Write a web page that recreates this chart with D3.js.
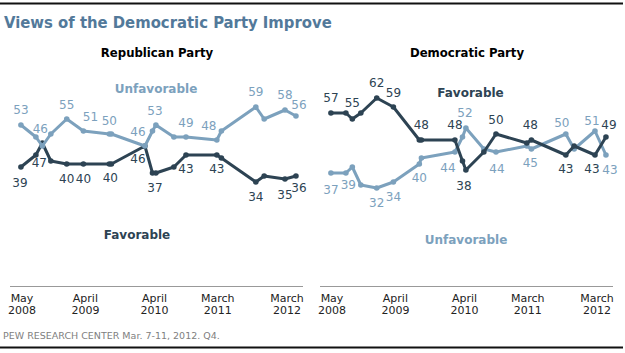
<!DOCTYPE html>
<html lang="en">
<head>
<meta charset="UTF-8">
<title>Views of the Democratic Party Improve</title>
<script src="https://cdn.jsdelivr.net/npm/d3@7"></script>
<style>
  body { margin: 0; background: #fff; }
  text { font-family: Tahoma, "DejaVu Sans", sans-serif; }
</style>
</head>
<body>
<div id="app"></div>
<script>
    // survey dates (shared by all four series)
    var surveyDates = ["2008-04-28", "2008-07-16", "2008-08-19", "2008-10-03", "2008-12-26",
        "2009-03-24", "2009-08-08", "2009-08-19", "2010-02-12", "2010-03-24", "2010-04-11",
        "2010-07-15", "2010-09-17", "2011-02-27", "2011-03-23", "2011-09-21", "2011-11-04",
        "2012-02-22", "2012-04-20"];

    var repUnfav = [53, 49, 46, 50, 55, 51, 50, 50, 46, 51, 53, 49, 49, 48, 51, 59, 55, 58, 56];
    var repFav   = [39, 43, 47, 41, 40, 40, 40, 40, 46, 37, 37, 39, 43, 43, 42, 34, 36, 35, 36];
    var demFav   = [57, 57, 55, 57, 62, 59, 48, 48, 48, 41, 38, 44, 50, 47, 48, 43, 46, 43, 49];
    var demUnfav = [37, 37, 39, 33, 32, 34, 40, 42, 44, 49, 52, 45, 44, 46, 45, 50, 45, 51, 43];

    var tickDates  = ["2008-05-01", "2009-04-01", "2010-04-01", "2011-03-01", "2012-03-01"];
    var tickMonths = ["May", "April", "April", "March", "March"];
    var tickYears  = ["2008", "2009", "2010", "2011", "2012"];

    // which points get a number, and where it sits (index, dx, dy)
    var repUnfavLabels = [[0,0,-15],[2,-2,-17],[4,0,-14],[5,7,-14],[6,0,-13],[8,-7,-14],[10,-1,-14],
        [12,0,-14],[13,-8,-14],[15,0,-15],[17,0,-15],[18,3,-11]];
    var repFavLabels = [[0,-1,16],[2,-3,20],[4,0,15],[5,0,15],[6,1,14],[8,-7,13],[10,-1,15],
        [12,0,14],[13,0,14],[15,0,15],[17,0,16],[18,3,12]];
    var demFavLabels = [[0,0,-15],[2,0,-16],[4,0,-15],[5,0,-14],[6,2,-15],[8,0,-15],[10,-2,16],
        [12,0,-14],[14,-1,-15],[15,0,14],[17,-3,14],[18,3,-12]];
    var demUnfavLabels = [[0,0,17],[2,-4,18],[4,0,15],[5,0,15],[6,0,14],[8,-7,16],[10,-1,-15],
        [12,1,17],[14,-1,14],[15,-4,-11],[17,-3,-10],[18,4,15]];

    var darkColor = "#2d4353";
    var lightColor = "#7ca1bd";

    var width = 625, height = 353;
    var parse = d3.timeParse("%Y-%m-%d");
    var dates = surveyDates.map(parse);

    var svg = d3.select("#app").append("svg")
        .attr("width", width)
        .attr("height", height);

    // top and bottom rules
    svg.append("line").attr("x1", 0).attr("x2", 623).attr("y1", 3.5).attr("y2", 3.5)
        .attr("stroke", "#111").attr("stroke-width", 2);
    svg.append("line").attr("x1", 0).attr("x2", 623).attr("y1", 347.5).attr("y2", 347.5)
        .attr("stroke", "#111").attr("stroke-width", 2);

    svg.append("text")
        .attr("x", 4).attr("y", 28)
        .attr("fill", "#52799a")
        .style("font-size", "16.5px").style("font-weight", "bold")
        .style("font-family", "'DejaVu Sans Condensed', Tahoma, 'DejaVu Sans', sans-serif")
        .text("Views of the Democratic Party Improve");

    svg.append("text")
        .attr("x", 3).attr("y", 338.5)
        .attr("fill", "#808080")
        .style("font-size", "9.5px")
        .text("PEW RESEARCH CENTER Mar. 7-11, 2012. Q4.");

    var x = d3.scaleTime()
        .domain([parse("2008-05-01"), parse("2012-03-01")])
        .range([21.5, 286.5]);
    var y = d3.scaleLinear()
        .domain([0, 60])
        .range([284, 104]);

    var line = d3.line()
        .x(function (d) { return x(d.date); })
        .y(function (d) { return y(d.value); });

    function drawPanel(offset, title, series) {
        var g = svg.append("g").attr("transform", "translate(" + offset + ",0)");

        g.append("text")
            .attr("x", 157).attr("y", 57)
            .attr("text-anchor", "middle")
            .attr("fill", "#000")
            .style("font-size", "13px").style("font-weight", "bold")
            .style("font-family", "'DejaVu Sans Condensed', Tahoma, 'DejaVu Sans', sans-serif")
            .text(title);

        // baseline + tick labels
        g.append("line")
            .attr("x1", 10).attr("x2", 303).attr("y1", 286.5).attr("y2", 286.5)
            .attr("stroke", "#999").attr("stroke-width", 1);

        var axis = g.append("g")
            .attr("transform", "translate(0,286)")
            .call(d3.axisBottom(x).tickValues(tickDates.map(parse)).tickSize(0).tickFormat(""));
        axis.select(".domain").remove();
        axis.selectAll(".tick").each(function (d, i) {
            var t = d3.select(this).append("text")
                .attr("text-anchor", "middle")
                .attr("fill", "#222")
                .style("font-size", "11px");
            t.append("tspan").attr("x", 0).attr("y", 16).text(tickMonths[i]);
            t.append("tspan").attr("x", 0).attr("y", 28).text(tickYears[i]);
        });

        series.forEach(function (s) {
            var pts = dates.map(function (d, i) { return { date: d, value: s.values[i] }; })
                .filter(function (p) { return p.value != null; });

            g.append("path")
                .datum(pts)
                .attr("d", line)
                .attr("fill", "none")
                .attr("stroke", s.color)
                .attr("stroke-width", 3)
                .attr("stroke-linejoin", "round");

            g.selectAll(null)
                .data(pts)
                .enter().append("circle")
                .attr("cx", function (d) { return x(d.date); })
                .attr("cy", function (d) { return y(d.value); })
                .attr("r", 2.8)
                .attr("fill", s.color);

            g.selectAll(null)
                .data(s.labels)
                .enter().append("text")
                .attr("x", function (l) { return x(dates[l[0]]) + l[1]; })
                .attr("y", function (l) { return y(s.values[l[0]]) + l[2]; })
                .attr("dy", "0.36em")
                .attr("text-anchor", "middle")
                .attr("fill", s.color)
                .style("font-size", "12px")
                .text(function (l) { return s.values[l[0]]; });

            g.append("text")
                .attr("x", s.name[1]).attr("y", s.name[2])
                .attr("dy", "0.36em")
                .attr("text-anchor", "middle")
                .attr("fill", s.color)
                .style("font-size", "12px").style("font-weight", "bold")
                .text(s.name[0]);
        });
    }

    drawPanel(0, "Republican Party", [
        { values: repFav, color: darkColor, labels: repFavLabels, name: ["Favorable", 137, 235] },
        { values: repUnfav, color: lightColor, labels: repUnfavLabels, name: ["Unfavorable", 156, 89] }
    ]);
    drawPanel(310, "Democratic Party", [
        { values: demUnfav, color: lightColor, labels: demUnfavLabels, name: ["Unfavorable", 156, 240] },
        { values: demFav, color: darkColor, labels: demFavLabels, name: ["Favorable", 160.5, 93] }
    ]);
</script>
</body>
</html>
